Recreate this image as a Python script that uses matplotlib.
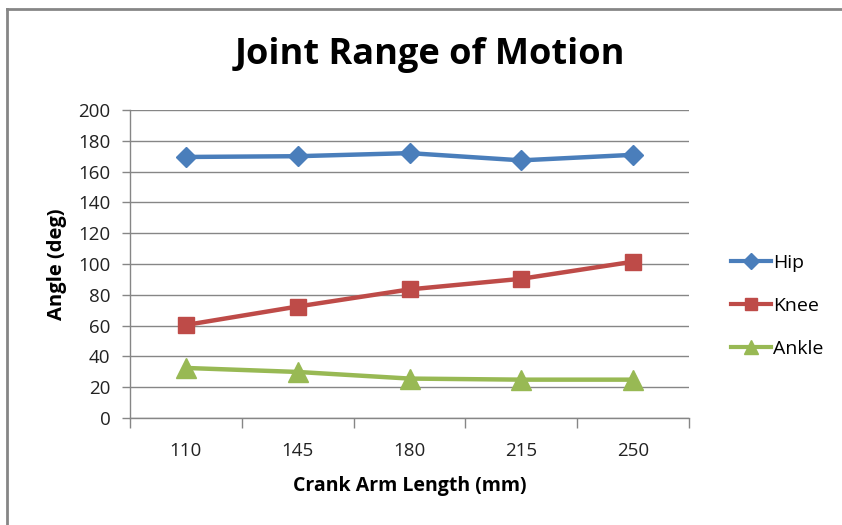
import matplotlib
matplotlib.use("Agg")
import matplotlib.pyplot as plt
from matplotlib.lines import Line2D

categories = ["110", "145", "180", "215", "250"]
hip = [169.5, 170.0, 172.0, 167.3, 170.9]
knee = [60.4, 72.4, 83.5, 90.4, 101.5]
ankle = [32.5, 29.9, 25.6, 24.9, 24.9]
yticks = [0, 20, 40, 60, 80, 100, 120, 140, 160, 180, 200]

FONT = ["Open Sans", "DejaVu Sans"]
plt.rcParams["font.family"] = FONT

W, H = 842, 525
fig = plt.figure(figsize=(W / 100, H / 100), dpi=100)

def fx(px):
    return px / W

def fy(py):
    return 1 - py / H

ax = fig.add_axes([fx(130), fy(418), fx(689) - fx(130), fy(110) - fy(418)])

x = list(range(len(categories)))
ax.plot(x, hip, color="#4A7EBB", lw=3.2, marker="D", ms=10, label="Hip", zorder=4)
ax.plot(x, knee, color="#BE4B48", lw=3.2, marker="s", ms=12, label="Knee", zorder=4)
ax.plot(x, ankle, color="#98B954", lw=3.2, marker="^", ms=14, label="Ankle", zorder=4)

ax.set_xlim(-0.5, len(categories) - 0.5)
ax.set_ylim(0, 200)
ax.set_yticks(yticks)
ax.set_yticklabels([str(v) for v in yticks])
ax.set_xticks(x)
ax.set_xticklabels(categories)
ax.set_xticks([i - 0.5 for i in range(len(categories) + 1)], minor=True)
ax.tick_params(axis="x", which="major", length=0, pad=17, labelsize=13.5, labelcolor="#222222")
ax.tick_params(axis="x", which="minor", length=7, color="#868686", width=1)
ax.tick_params(axis="y", length=6, color="#868686", width=1, labelsize=13.5, labelcolor="#222222", pad=8)
ax.grid(axis="y", color="#868686", lw=1)
ax.set_axisbelow(True)
for s in ["top", "right"]:
    ax.spines[s].set_visible(False)
for s in ["left", "bottom"]:
    ax.spines[s].set_color("#868686")
    ax.spines[s].set_linewidth(1)

ax.set_ylabel("Angle (deg)", fontsize=14.5, fontweight="bold", labelpad=8)
ax.set_xlabel("Crank Arm Length (mm)", fontsize=14, fontweight="bold", labelpad=12)
fig.text(fx(430), fy(55), "Joint Range of Motion", ha="center", va="center",
         fontsize=26, fontweight="bold")

handles = [
    Line2D([], [], color="#4A7EBB", lw=3, marker="D", ms=8),
    Line2D([], [], color="#BE4B48", lw=3, marker="s", ms=9),
    Line2D([], [], color="#98B954", lw=3, marker="^", ms=10),
]
fig.legend(handles, ["Hip", "Knee", "Ankle"], loc="center left",
           bbox_to_anchor=(fx(713), fy(306)), frameon=False, fontsize=14,
           handlelength=2.1, handletextpad=0.1, labelspacing=1.3)

# outer chart border
fig.add_artist(Line2D([fx(7), 1.0], [fy(9), fy(9)], color="#868686", lw=2))
fig.add_artist(Line2D([fx(7), fx(7)], [fy(9), 0.0], color="#868686", lw=2))

fig.savefig("out.png", dpi=100)
